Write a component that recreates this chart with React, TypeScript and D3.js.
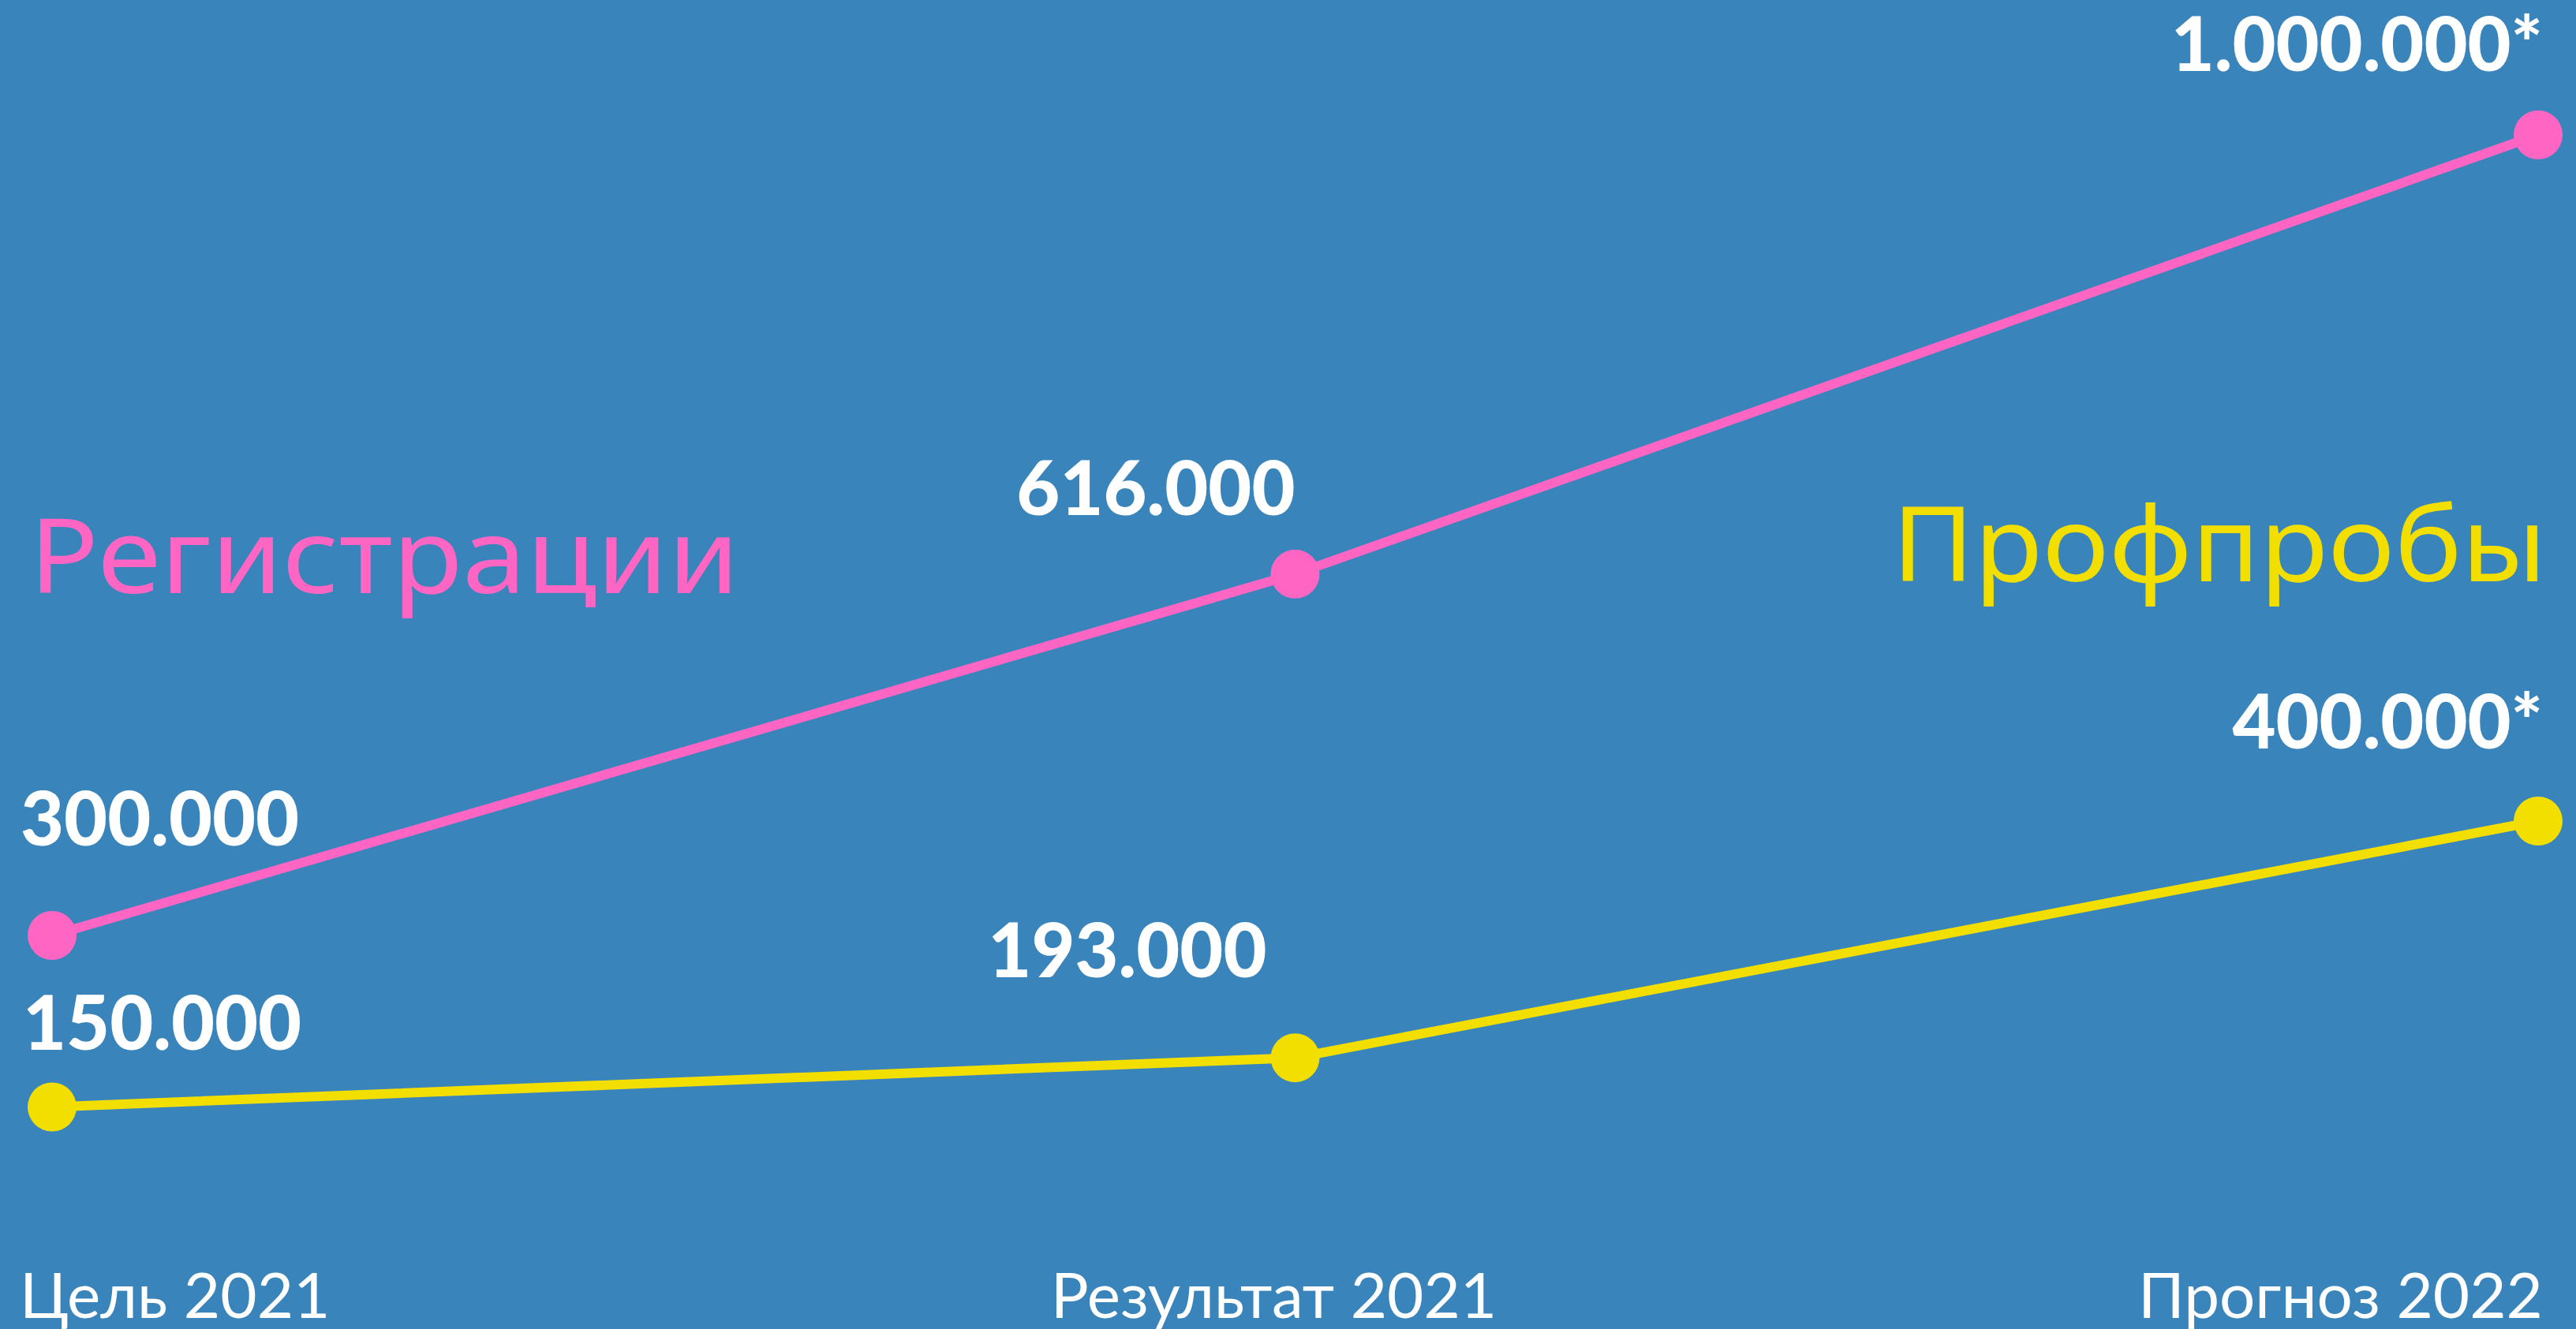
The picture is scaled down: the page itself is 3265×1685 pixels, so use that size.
import React from "react";
import * as d3 from "d3";

const categories = ["Цель 2021", "Результат 2021", "Прогноз 2022"];
const registrations = [300000, 616000, 1000000];
const trials = [150000, 193000, 400000];
const forecastMarks = ["", "", "*"];
const seriesNames = ["Регистрации", "Профпробы"];

const W = 3265;
const H = 1685;
const BG = "#3984bb";
const PINK = "#ff66c4";
const YELLOW = "#f2df00";

const fmt = d3.formatLocale({ decimal: ",", thousands: ".", grouping: [3], currency: ["", ""] }).format(",d");

const regLabelLayout = [
  { anchor: "start", dx: -40, dy: -114 },
  { anchor: "end", dx: 0, dy: -75 },
  { anchor: "end", dx: 6, dy: -81 },
];
const trialLabelLayout = [
  { anchor: "start", dx: -37, dy: -73 },
  { anchor: "end", dx: -36, dy: -102 },
  { anchor: "end", dx: 6, dy: -92 },
];
const catLayout = [
  { anchor: "start", dx: -41 },
  { anchor: "middle", dx: -27 },
  { anchor: "end", dx: 6 },
];

export default function App() {
  const x = d3.scalePoint<string>().domain(categories).range([66, 3217]);
  const y = d3.scaleLinear().domain([0, 1000000]).range([1621, 171]);
  const line = d3
    .line<number>()
    .x((_, i) => x(categories[i]) as number)
    .y((d) => y(d));

  const series = [
    { name: seriesNames[0], values: registrations, color: PINK, layout: regLabelLayout },
    { name: seriesNames[1], values: trials, color: YELLOW, layout: trialLabelLayout },
  ];

  return (
    <svg
      width={W}
      height={H}
      style={{ position: "absolute", left: 0, top: 0, display: "block" }}
    >
      <rect x={0} y={0} width={W} height={H} fill={BG} />
      {series.map((s) => (
        <g key={s.name}>
          <path d={line(s.values) || ""} fill="none" stroke={s.color} strokeWidth={12} />
          {s.values.map((v, i) => (
            <circle key={i} cx={x(categories[i])} cy={y(v)} r={31} fill={s.color} />
          ))}
          {s.values.map((v, i) => (
            <text
              key={"t" + i}
              x={(x(categories[i]) as number) + s.layout[i].dx}
              y={y(v) + s.layout[i].dy}
              textAnchor={s.layout[i].anchor as any}
              fontFamily="Lato"
              fontWeight={900}
              fontSize={95}
              fill="#ffffff"
            >
              {fmt(v) + forecastMarks[i]}
            </text>
          ))}
        </g>
      ))}
      {categories.map((c, i) => (
        <text
          key={c}
          x={(x(c) as number) + catLayout[i].dx}
          y={1671}
          textAnchor={catLayout[i].anchor as any}
          fontFamily="Lato"
          fontWeight={400}
          fontSize={80}
          fill="#ffffff"
        >
          {c}
        </text>
      ))}
      <text
        x={37}
        y={752}
        fontFamily="'Noto Sans'"
        fontWeight={400}
        fontSize={132}
        fill={PINK}
        textLength={900}
        lengthAdjust="spacingAndGlyphs"
      >
        {seriesNames[0]}
      </text>
      <text
        x={3228}
        y={737}
        textAnchor="end"
        fontFamily="'Noto Sans'"
        fontWeight={400}
        fontSize={132}
        fill={YELLOW}
        textLength={830}
        lengthAdjust="spacingAndGlyphs"
      >
        {seriesNames[1]}
      </text>
    </svg>
  );
}
